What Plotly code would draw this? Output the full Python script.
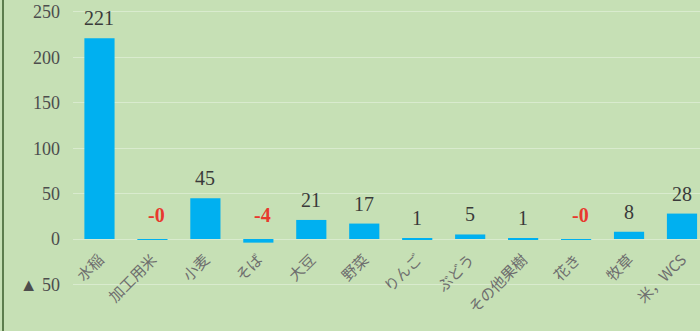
import plotly.graph_objects as go

# 品目別の増減（単位：千ha相当）
categories = ["水稲", "加工用米", "小麦", "そば", "大豆", "野菜", "りんご", "ぶどう", "その他果樹", "花き", "牧草", "米，WCS"]
values = [221, -0.2, 45, -4, 21, 17, 1, 5, 1, -0.2, 8, 28]

y_tick_vals = [-50, 0, 50, 100, 150, 200, 250]
y_tick_text = ["▲ 50", "0", "50", "100", "150", "200", "250"]

BG = "#c6e0b5"
BAR = "#00b0f0"
GRID = "#d9ebce"

Y_MIN, Y_MAX = -101.3, 263.2

fig = go.Figure()
fig.add_trace(go.Bar(
    x=categories,
    y=values,
    marker=dict(color=BAR, line=dict(width=0)),
    width=0.57,
    hoverinfo="skip",
))

# value labels above each bar; negatives shown in red
for cat, v in zip(categories, values):
    neg = v < 0
    fig.add_annotation(
        x=cat, y=max(v, 0), xref="x", yref="y",
        text=f"<b>{v:.0f}</b>" if neg else f"{v:.0f}",
        showarrow=False,
        yanchor="middle",
        yshift=24 if neg else 20,
        xshift=4 if neg else 0,
        font=dict(family="Liberation Serif", size=20,
                  color="#e8392e" if neg else "#3a3a3a"),
    )

fig.update_layout(
    width=700, height=331,
    margin=dict(l=73, r=0, t=0, b=0),
    paper_bgcolor=BG, plot_bgcolor=BG,
    showlegend=False,
    bargap=0.43,
    xaxis=dict(
        range=[-0.5, 11.34],
        anchor="free",
        position=(0 - Y_MIN) / (Y_MAX - Y_MIN),  # category labels sit under the zero line
        automargin=False,
        tickangle=-45,
        tickfont=dict(family="Noto Sans CJK JP", size=15, color="#6e6e6e"),
        showgrid=False, zeroline=False, showline=False,
        ticks="", ticklabelstandoff=8, fixedrange=True,
    ),
    yaxis=dict(
        range=[Y_MIN, Y_MAX],
        automargin=False,
        tickvals=y_tick_vals, ticktext=y_tick_text,
        tickfont=dict(family="Liberation Serif", size=18, color="#4d4d4d"),
        showgrid=True, gridcolor=GRID, gridwidth=1,
        zeroline=False, showline=False,
        ticks="", ticklabelstandoff=12, fixedrange=True,
    ),
    shapes=[dict(
        type="line", xref="paper", yref="paper",
        x0=-70 / 627, x1=-70 / 627, y0=0, y1=1,
        line=dict(color="#5d7d4e", width=2),
    )],
)

fig.write_html("out.html")
